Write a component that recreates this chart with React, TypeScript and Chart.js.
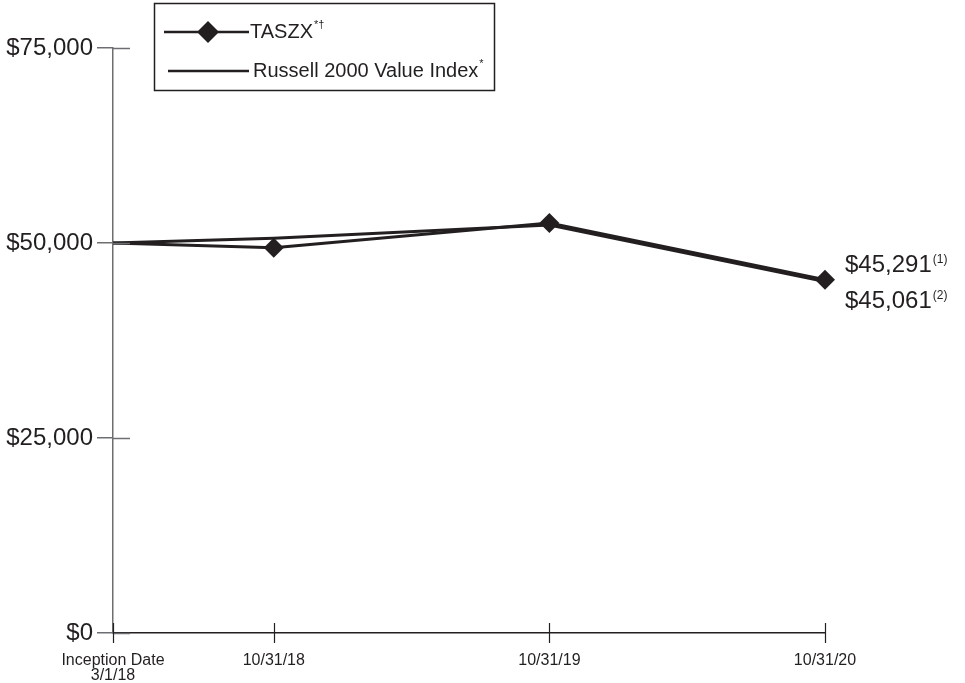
import React, { useEffect, useRef } from 'react';
import { Chart, registerables } from 'chart.js';

Chart.register(...registerables);

// ---- data ----
const xPositions = [0, 7, 19, 31];
const xLabels = [['Inception Date', '3/1/18'], ['10/31/18'], ['10/31/19'], ['10/31/20']];
const taszxValues = [50000, 49400, 52550, 45291];
const russellValues = [50000, 50600, 52300, 45061];
const yTicks = [0, 25000, 50000, 75000];
const seriesLabels = ['TASZX', 'Russell 2000 Value Index'];
const seriesSups = ['*\u2020', '*'];
const endLabels = ['$45,291', '$45,061'];
const endSups = ['(1)', '(2)'];

const DARK = '#231f20';
const GRAY = '#6d6e71';
const FONT = '"Liberation Sans", Arial, sans-serif';

const overlay = {
  id: 'overlay',
  afterDraw(chart: any) {
    const ctx = chart.ctx as CanvasRenderingContext2D;
    const xs = chart.scales.x;
    const ys = chart.scales.y;
    ctx.save();

    // right halves of the y ticks (crossing the axis)
    ctx.strokeStyle = GRAY;
    ctx.lineWidth = 1.5;
    yTicks.forEach((v) => {
      const py = Math.round(ys.getPixelForValue(v)) + 0.5;
      ctx.beginPath();
      ctx.moveTo(xs.left, py);
      ctx.lineTo(xs.left + 17, py);
      ctx.stroke();
    });

    // x ticks, crossing the axis
    const base = ys.getPixelForValue(0);
    ctx.strokeStyle = DARK;
    ctx.lineWidth = 1.2;
    xPositions.forEach((v) => {
      const px = Math.round(xs.getPixelForValue(v)) + 0.5;
      ctx.beginPath();
      ctx.moveTo(px, base - 10);
      ctx.lineTo(px, base + 10);
      ctx.stroke();
    });

    // x labels
    ctx.fillStyle = DARK;
    ctx.font = `16px ${FONT}`;
    ctx.textAlign = 'center';
    ctx.textBaseline = 'middle';
    xPositions.forEach((v, i) => {
      const px = xs.getPixelForValue(v);
      xLabels[i].forEach((line, j) => {
        ctx.fillText(line, px, base + 28 + j * 15);
      });
    });

    // end labels
    const ds = chart.data.datasets;
    const lastX = xs.getPixelForValue(xPositions[xPositions.length - 1]);
    const lastVals = [taszxValues[taszxValues.length - 1], russellValues[russellValues.length - 1]];
    const offsets = [-14, 20];
    ctx.textAlign = 'left';
    endLabels.forEach((t, i) => {
      const py = ys.getPixelForValue(lastVals[i]) + offsets[i];
      ctx.font = `24px ${FONT}`;
      ctx.fillText(t, lastX + 20, py);
      const w = ctx.measureText(t).width;
      ctx.font = `12px ${FONT}`;
      ctx.fillText(endSups[i], lastX + 21 + w, py - 6);
    });

    // legend box
    ctx.strokeStyle = DARK;
    ctx.lineWidth = 1.5;
    ctx.strokeRect(154.5, 3.5, 340, 87);
    const rows = [32, 71];
    ds.forEach((d: any, i: number) => {
      const ry = rows[i];
      ctx.strokeStyle = DARK;
      ctx.lineWidth = 2.5;
      ctx.beginPath();
      ctx.moveTo(i === 0 ? 164 : 168, ry);
      ctx.lineTo(249, ry);
      ctx.stroke();
      if (i === 0) {
        ctx.fillStyle = DARK;
        ctx.beginPath();
        ctx.moveTo(208, ry - 11);
        ctx.lineTo(219, ry);
        ctx.lineTo(208, ry + 11);
        ctx.lineTo(197, ry);
        ctx.closePath();
        ctx.fill();
      }
      ctx.fillStyle = DARK;
      ctx.font = `20px ${FONT}`;
      ctx.textAlign = 'left';
      ctx.textBaseline = 'middle';
      const tx = i === 0 ? 250 : 253;
      ctx.fillText(d.label, tx, ry);
      const w = ctx.measureText(d.label).width;
      ctx.font = `11px ${FONT}`;
      ctx.fillText(seriesSups[i], tx + w + 1, ry - 7);
    });

    ctx.restore();
  },
};

export default function App() {
  const ref = useRef<HTMLCanvasElement | null>(null);

  useEffect(() => {
    document.body.style.margin = '0';
    if (!ref.current) return;
    const chart = new Chart(ref.current, {
      type: 'line',
      data: {
        datasets: [
          {
            label: seriesLabels[0],
            data: xPositions.map((x, i) => ({ x, y: taszxValues[i] })),
            borderColor: DARK,
            backgroundColor: DARK,
            borderWidth: 3,
            pointStyle: 'rectRot',
            pointRadius: [0, 10, 10, 10],
            pointBorderWidth: 0,
            pointBackgroundColor: DARK,
            clip: false,
            tension: 0,
          },
          {
            label: seriesLabels[1],
            data: xPositions.map((x, i) => ({ x, y: russellValues[i] })),
            borderColor: DARK,
            backgroundColor: DARK,
            borderWidth: 3,
            pointRadius: 0,
            clip: false,
            tension: 0,
          },
        ],
      },
      options: {
        responsive: false,
        animation: false,
        layout: { padding: { top: 48, right: 140, left: 0, bottom: 0 } },
        plugins: { legend: { display: false }, tooltip: { enabled: false } },
        scales: {
          x: {
            type: 'linear',
            min: xPositions[0],
            max: xPositions[xPositions.length - 1],
            ticks: { display: false },
            grid: { display: false, drawTicks: false },
            border: { display: true, color: DARK, width: 1.5 },
            afterFit: (s: any) => {
              s.height = 50;
            },
          },
          y: {
            min: 0,
            max: 75000,
            afterBuildTicks: (s: any) => {
              s.ticks = yTicks.map((v) => ({ value: v }));
            },
            ticks: {
              color: DARK,
              font: { family: FONT, size: 24 },
              padding: 4,
              callback: (v: any) => '$' + Number(v).toLocaleString('en-US'),
            },
            grid: {
              display: true,
              drawOnChartArea: false,
              drawTicks: true,
              tickLength: 16,
              color: GRAY,
              lineWidth: 1.5,
            },
            border: { display: true, color: GRAY, width: 1.5 },
            afterFit: (s: any) => {
              s.width = 113;
            },
          },
        },
      },
      plugins: [overlay],
    });
    return () => chart.destroy();
  }, []);

  return (
    <div style={{ width: 965, height: 683 }}>
      <canvas ref={ref} width={965} height={683} />
    </div>
  );
}
